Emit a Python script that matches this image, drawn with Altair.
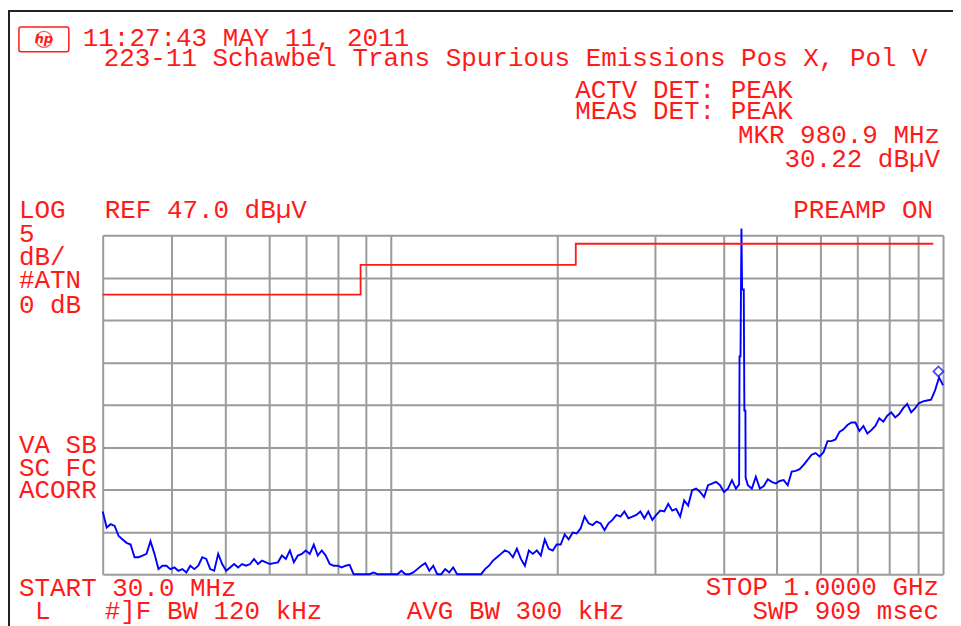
import altair as alt
import numpy as np
import pandas as pd

START_MHZ = 30.0
STOP_MHZ = 1000.0
REF_DBUV = 47.0          # top graticule line
BOTTOM_DBUV = 7.0        # 8 divisions x 5 dB below REF

# swept trace (peak detector), equally spaced sweep points on the log-frequency axis
trace_dbuv = [
    14.4, 12.5, 12.9, 12.7, 11.5, 11.1, 10.7, 10.5, 9.0, 9.0,
    9.2, 9.4, 10.9, 9.4, 7.6, 8.0, 8.0, 7.6, 7.8, 7.4,
    7.6, 7.2, 8.0, 7.6, 8.0, 9.0, 8.8, 7.6, 7.4, 9.4,
    8.2, 7.4, 7.8, 8.2, 7.8, 8.2, 8.0, 8.2, 8.8, 8.2,
    8.6, 8.4, 8.2, 8.3, 8.4, 9.2, 8.8, 9.8, 8.4, 9.2,
    9.4, 9.8, 9.4, 10.5, 9.2, 9.8, 9.2, 8.2, 8.0, 8.0,
    7.8, 8.0, 8.1, 7.0, 7.0, 7.0, 7.0, 7.0, 7.2, 7.0,
    7.0, 7.0, 7.0, 7.0, 7.0, 7.4, 7.0, 7.0, 7.2, 7.6,
    8.0, 8.3, 7.4, 8.0, 7.0, 7.0, 7.6, 7.2, 7.8, 7.0,
    7.0, 7.0, 7.0, 7.0, 7.0, 7.0, 7.6, 8.0, 8.6, 9.0,
    9.4, 9.8, 9.6, 9.0, 10.0, 8.8, 8.0, 9.8, 9.4, 9.8,
    9.2, 11.1, 10.0, 9.8, 10.5, 10.5, 11.7, 11.1, 11.9, 11.8,
    12.4, 13.8, 13.0, 12.8, 13.2, 13.0, 12.2, 13.0, 13.4, 14.0,
    13.8, 14.4, 13.6, 13.8, 14.0, 14.4, 13.6, 14.4, 13.4, 14.0,
    14.5, 14.4, 15.3, 14.5, 14.7, 13.8, 15.7, 15.1, 16.9, 17.1,
    16.7, 16.1, 17.5, 17.7, 17.9, 17.5, 16.7, 17.1, 18.1, 17.1,
    17.6, 18.4, 17.5, 17.1, 18.5, 17.1, 17.4, 18.2, 17.9, 17.7,
    18.0, 18.1, 17.5, 19.1, 19.2, 19.4, 19.9, 20.5, 21.1, 21.3,
    20.9, 21.4, 22.7, 22.7, 22.9, 23.8, 24.1, 24.6, 24.9, 24.9,
    23.9, 24.5, 23.6, 24.0, 24.5, 25.4, 25.0, 25.7, 26.1, 25.5,
    25.9, 26.6, 27.1, 26.1, 26.6, 27.2, 27.4, 27.5, 27.6, 28.7,
    30.22, 29.3,
]

# 433.92 MHz transmitter carrier (finer points around the spike)
spike_mhz = [427.0, 427.8, 429.5, 431.2, 432.4, 435.4, 436.5, 438.4, 438.8]
spike_dbuv = [17.6, 32.7, 32.7, 47.8, 40.6, 40.6, 26.3, 26.3, 18.4]

# limit line
limit_mhz = [30, 88, 88, 216, 216, 960]
limit_dbuv = [40.0, 40.0, 43.5, 43.5, 46.0, 46.0]

# graticule
freq_grid_mhz = [30, 40, 50, 60, 70, 80, 90, 100, 200, 300, 400, 500, 600, 700, 800, 900, 1000]
level_grid_dbuv = [7, 12, 17, 22, 27, 32, 37, 42, 47]

marker_mhz = [980.9]
marker_dbuv = [30.22]

# ---------------- tables ----------------
n = len(trace_dbuv)
sweep_mhz = START_MHZ * (STOP_MHZ / START_MHZ) ** (np.arange(n) / (n - 1))
base = pd.DataFrame({"f": sweep_mhz, "a": trace_dbuv})
base = base[(base.f < min(spike_mhz)) | (base.f > max(spike_mhz))]
trace = pd.concat([base, pd.DataFrame({"f": spike_mhz, "a": spike_dbuv})])
trace = trace.sort_values("f").reset_index(drop=True)
trace["o"] = np.arange(len(trace))

limit = pd.DataFrame({"f": limit_mhz, "a": limit_dbuv, "o": np.arange(len(limit_mhz))})
marker = pd.DataFrame({"f": marker_mhz, "a": marker_dbuv})

# ---------------- styling ----------------
RED = "#ff1a1a"
BLUE = "#0000ff"
GRID = "#9b9b9b"
FONT = "Liberation Mono"
FS = 26

W, H = 843, 340
PAD_L, PAD_T = 95, 227

xscale = alt.Scale(type="log", domain=[START_MHZ, STOP_MHZ], nice=False)
yscale = alt.Scale(domain=[BOTTOM_DBUV, REF_DBUV], nice=False, zero=False)
xaxis = alt.Axis(values=freq_grid_mhz, grid=True, gridColor=GRID, gridWidth=2,
                 gridOpacity=1, labels=False, ticks=False, domain=False, title=None)
yaxis = alt.Axis(values=level_grid_dbuv, grid=True, gridColor=GRID, gridWidth=2,
                 gridOpacity=1, labels=False, ticks=False, domain=False, title=None)

X = alt.X("f:Q", scale=xscale, axis=xaxis)
Y = alt.Y("a:Q", scale=yscale, axis=yaxis)

trace_layer = alt.Chart(trace).mark_line(color=BLUE, strokeWidth=1.9).encode(
    x=X, y=Y, order="o:Q")
limit_layer = alt.Chart(limit).mark_line(color=RED, strokeWidth=1.8).encode(
    x=X, y=Y, order="o:Q")
marker_layer = alt.Chart(marker).mark_point(
    shape="diamond", filled=False, color=BLUE, size=100, strokeWidth=1.8, yOffset=-6
).encode(x=X, y=Y)


def label(txt, x, y, align="left", size=FS):
    return alt.Chart(pd.DataFrame({"t": [txt]})).mark_text(
        align=align, baseline="alphabetic", font=FONT, fontSize=size, color=RED
    ).encode(x=alt.value(x), y=alt.value(y), text="t:N")


one = pd.DataFrame({"k": [0]})
frame = alt.Chart(one).mark_rect(filled=False, stroke="#222222", strokeWidth=2).encode(
    x=alt.value(-PAD_L + 1), y=alt.value(-PAD_T + 2), x2=alt.value(900), y2=alt.value(420))
logo_box = alt.Chart(one).mark_rect(filled=False, stroke=RED, strokeWidth=1.5, cornerRadius=2).encode(
    x=alt.value(-84), y=alt.value(-209), x2=alt.value(-34), y2=alt.value(-184))
logo_ring = alt.Chart(one).mark_point(shape="circle", filled=False, color=RED, size=260, strokeWidth=1.4).encode(
    x=alt.value(-59), y=alt.value(-196.5))
logo_txt = alt.Chart(pd.DataFrame({"t": ["hp"]})).mark_text(
    align="center", baseline="middle", font="DejaVu Sans", fontSize=13, fontStyle="italic",
    fontWeight="bold", color=RED).encode(x=alt.value(-59), y=alt.value(-197), text="t:N")

labels = [
    label("11:27:43 MAY 11, 2011", -20, -190),
    label("223-11 Schawbel Trans Spurious Emissions Pos X, Pol V", 1, -170),
    label("ACTV DET: PEAK", 474, -138),
    label("MEAS DET: PEAK", 474, -117),
    label("MKR 980.9 MHz", 840, -93, align="right"),
    label("30.22 dBµV", 840, -68, align="right"),
    label("LOG", -84, -17),
    label("REF 47.0 dBµV", 2, -17),
    label("PREAMP ON", 833, -17, align="right"),
    label("5", -84, 7),
    label("dB/", -84, 30),
    label("#ATN", -84, 53),
    label("0 dB", -84, 78),
    label("VA SB", -84, 218),
    label("SC FC", -84, 242),
    label("ACORR", -84, 264),
    label("START 30.0 MHz", -84, 362),
    label("STOP 1.0000 GHz", 839, 361, align="right"),
    label("L", -68, 385),
    label("#]F BW 120 kHz", 2, 385),
    label("AVG BW 300 kHz", 305, 385),
    label("SWP 909 msec", 839, 385, align="right"),
]

chart = alt.layer(
    trace_layer, limit_layer, marker_layer, frame, logo_box, logo_ring, logo_txt, *labels
).properties(
    width=W, height=H,
    autosize=alt.AutoSizeParams(type="none"),
    padding={"left": PAD_L, "top": PAD_T, "right": 10, "bottom": 51},
    background="white",
).configure_view(strokeWidth=0)

chart.save("out.html", embed_options={"renderer": "svg", "actions": False})
